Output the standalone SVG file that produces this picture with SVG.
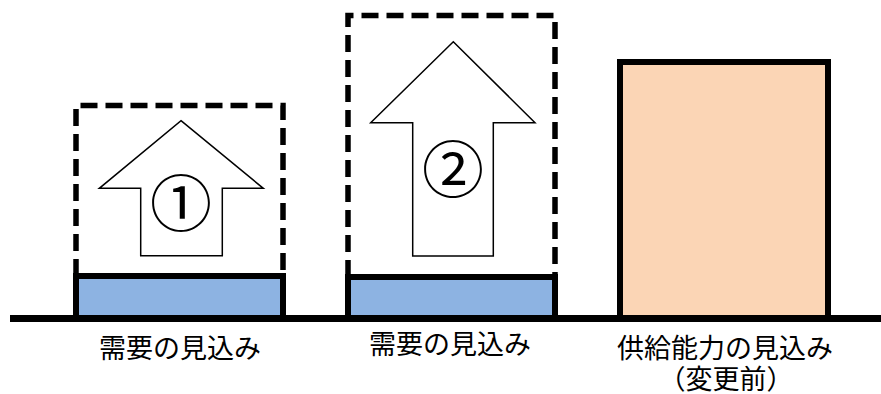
<svg xmlns="http://www.w3.org/2000/svg" width="881" height="394" viewBox="0 0 881 394">
<style>
.dash{fill:none;stroke:#000;stroke-width:5.5;stroke-dasharray:17 8}
.bar{stroke:#000;stroke-width:6}
.arrow{fill:#fff;stroke:#000;stroke-width:1.5;stroke-linejoin:miter}
.num{font-family:"Noto Sans CJK JP","Noto Sans",sans-serif;font-size:62px;text-anchor:middle;fill:#000}
.lbl{font-family:"Noto Sans CJK JP",sans-serif;font-size:27px;text-anchor:middle;fill:#000}
</style>
<rect width="881" height="394" fill="#fff"/>
<g id="demand1">
<path class="dash" d="M76,276 V105.5 H283 V276"/>
<rect class="bar" x="76" y="276" width="207" height="42.5" fill="#8DB3E2"/>
<polygon class="arrow" points="181,120.7 263.3,188.3 222.3,188.3 222.3,255.7 140.7,255.7 140.7,188.3 99.3,188.3"/>
<text class="num" x="181" y="227">①</text>
<text class="lbl" x="180" y="358">需要の見込み</text>
</g>
<g id="demand2">
<path class="dash" d="M348,277 V15.5 H555 V277"/>
<rect class="bar" x="348" y="277" width="207" height="41.5" fill="#8DB3E2"/>
<polygon class="arrow" points="453.3,41.7 535,122.7 493.3,122.7 493.3,256 412.7,256 412.7,122.7 370.7,122.7"/>
<text class="num" x="453" y="193">②</text>
<text class="lbl" x="450" y="354">需要の見込み</text>
</g>
<g id="supply">
<rect class="bar" x="620" y="62" width="208" height="256.5" fill="#FBD5B5"/>
<text class="lbl" x="725" y="358">供給能力の見込み</text>
<text class="lbl" x="726" y="389">（変更前）</text>
</g>
<g id="connectors">
<line x1="10" y1="318.5" x2="881" y2="318.5" stroke="#000" stroke-width="7"/>
</g>
</svg>
